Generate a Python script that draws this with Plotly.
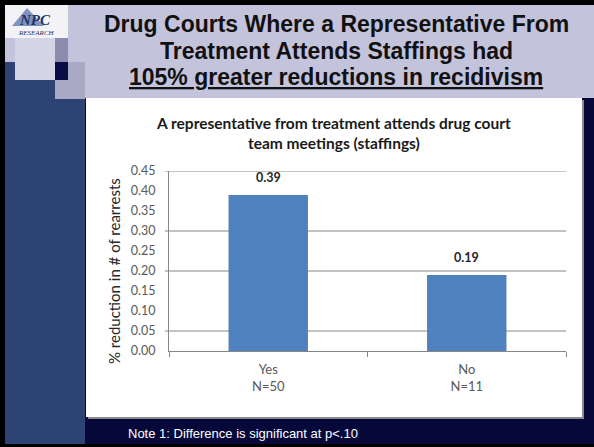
import plotly.graph_objects as go

# ---- data ----
categories = ["Yes<br>N=50", "No<br>N=11"]
values = [0.39, 0.19]
bar_labels = ["0.39", "0.19"]
y_ticks = [0.00, 0.05, 0.10, 0.15, 0.20, 0.25, 0.30, 0.35, 0.40, 0.45]
y_tick_text = ["0.00", "0.05", "0.10", "0.15", "0.20", "0.25", "0.30", "0.35", "0.40", "0.45"]
grid_levels = [0.05, 0.20, 0.30, 0.45]

slide_title_lines = [
    "<b>Drug Courts Where a Representative From</b>",
    "<b>Treatment Attends Staffings had</b>",
    "<b><u>105% greater reductions in recidivism</u></b>",
]
chart_title = "A representative from treatment attends drug court<br>team meetings (staffings)"
y_title = "% reduction in # of rearrests"
note_text = "Note 1: Difference is significant at p<.10"

# ---- geometry (pixel -> paper) ----
W_PX, H_PX = 594, 447
L, R, T, B = 169, 566, 171, 351


def px(x):
    return (x - L) / (R - L)


def py(y):
    return (B - y) / (B - T)


def rect(x0, y0, x1, y1, color, layer="below"):
    return dict(type="rect", xref="paper", yref="paper",
                x0=px(x0), x1=px(x1), y0=py(y1), y1=py(y0),
                fillcolor=color, line=dict(width=0), layer=layer)


shapes = [
    rect(0, 0, 594, 447, "#000000"),
    rect(5, 5, 594, 444, "#06083a"),
    rect(5, 5, 594, 98, "#c3c3db"),
    rect(5, 62, 85, 444, "#2c4373"),
    rect(55, 62, 85, 99, "#a9a9c6"),
    rect(5, 5, 68, 38, "#f3f3f7"),
    rect(15, 38, 55, 80, "#d4d4e6"),
    rect(55, 38, 68, 62, "#8c8cae"),
    rect(55, 62, 68, 80, "#0c0c44"),
    rect(88, 100, 584, 419, "#8a8a8a"),
    rect(86, 98, 582, 417, "#ffffff"),
    dict(type="path", xref="paper", yref="paper",
         path="M {} {} L {} {} L {} {} Z".format(px(12), py(26), px(27), py(8), px(44), py(26)),
         fillcolor="#7f93bd", line=dict(width=0), layer="below"),
]
for g in grid_levels:
    shapes.append(dict(type="line", xref="paper", yref="y",
                       x0=px(165), x1=1, y0=g, y1=g,
                       line=dict(color="#868686", width=1), layer="below"))

fig = go.Figure()
fig.add_trace(go.Bar(
    x=categories, y=values,
    marker=dict(color="#4f81bd", line=dict(width=0)),
    hoverinfo="skip",
))

annotations = []
title_y = [24, 51, 77]
for line, yy in zip(slide_title_lines, title_y):
    annotations.append(dict(
        text=line, xref="paper", yref="paper", x=px(336), y=py(yy),
        xanchor="center", yanchor="middle", showarrow=False,
        font=dict(family="Liberation Sans", size=23, color="#111111"),
    ))
annotations.append(dict(
    text="<b>" + chart_title + "</b>", xref="paper", yref="paper",
    x=px(333), y=py(133), xanchor="center", yanchor="middle", showarrow=False,
    font=dict(family="Lato", size=15.5, color="#1a1a1a"),
))
annotations.append(dict(
    text=y_title, xref="paper", yref="paper", x=px(114), y=py(271),
    xanchor="center", yanchor="middle", textangle=-90, showarrow=False,
    font=dict(family="Lato", size=15, color="#262626"),
))
for c, v, t in zip(categories, values, bar_labels):
    annotations.append(dict(
        text="<b>" + t + "</b>", x=c, y=v, xref="x", yref="y",
        xanchor="center", yanchor="bottom", yshift=8, showarrow=False,
        font=dict(family="Lato", size=12.5, color="#262626"),
    ))
annotations.append(dict(
    text=note_text, xref="paper", yref="paper", x=px(126), y=py(433),
    xanchor="left", yanchor="middle", showarrow=False,
    font=dict(family="Liberation Sans", size=13, color="#ffffff"),
))
annotations.append(dict(
    text="<b><i>NPC</i></b>", xref="paper", yref="paper", x=px(35), y=py(20),
    xanchor="center", yanchor="middle", showarrow=False,
    font=dict(family="Liberation Serif", size=15, color="#1d3466"),
))
annotations.append(dict(
    text="<i>RESEARCH</i>", xref="paper", yref="paper", x=px(36), y=py(33),
    xanchor="center", yanchor="middle", showarrow=False,
    font=dict(family="Liberation Serif", size=7, color="#1d3466"),
))

fig.update_layout(
    width=W_PX, height=H_PX,
    margin=dict(l=L, r=W_PX - R, t=T, b=H_PX - B, pad=0),
    paper_bgcolor="#000000",
    plot_bgcolor="rgba(0,0,0,0)",
    showlegend=False,
    bargap=0.6,
    shapes=shapes,
    annotations=annotations,
    xaxis=dict(
        showline=True, linecolor="#868686", linewidth=1,
        ticks="outside", tickson="boundaries", ticklen=5, tickcolor="#868686",
        tickfont=dict(family="Lato", size=13, color="#595959"),
        ticklabelstandoff=6, fixedrange=True,
    ),
    yaxis=dict(
        range=[0, 0.45], tickvals=y_ticks, ticktext=y_tick_text,
        showgrid=False, zeroline=False,
        showline=True, linecolor="#868686", linewidth=1,
        ticks="", tickfont=dict(family="Lato", size=12.5, color="#595959"),
        ticklabelstandoff=10,
        fixedrange=True,
    ),
)

fig.write_html("out.html", config={"displayModeBar": False},
               post_script="document.body.style.margin='0';")
